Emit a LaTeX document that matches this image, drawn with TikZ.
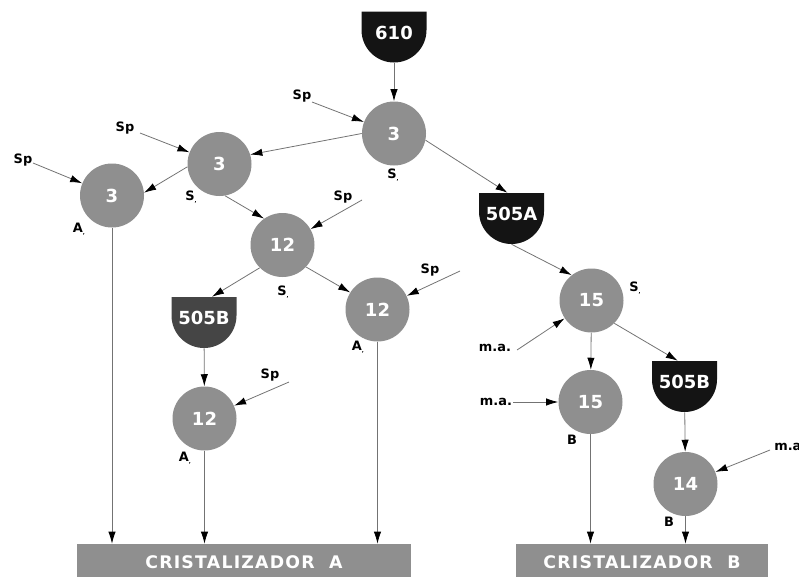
\documentclass[tikz,border=0pt]{standalone}
\usepackage{fontspec}
\setmainfont{DejaVu Sans}
\usetikzlibrary{arrows.meta}
\definecolor{cellgray}{HTML}{8F8F8F}
\definecolor{tankdark}{HTML}{141414}
\definecolor{tankmid}{HTML}{454545}
\newcommand{\subtic}{\raisebox{-2pt}{\fontsize{4}{4}\selectfont ,}}
\begin{document}
\begin{tikzpicture}[x=0.75pt, y=-0.75pt,
    cell/.style={circle, fill=cellgray, minimum size=48pt, inner sep=0pt,
      text=white, font=\fontsize{13.5}{14}\selectfont\bfseries},
    tank/.style={minimum width=48.75pt, minimum height=38.25pt, inner sep=0pt,
      text=white, text height=10pt, text depth=6.3pt,
      font=\fontsize{13.5}{14}\selectfont\bfseries,
      path picture={\fill[#1] (path picture bounding box.north west)
        -- (path picture bounding box.north east) -- ++(0,-13.875pt)
        arc[start angle=0, end angle=-180, radius=24.375pt] -- cycle;}},
    crys/.style={fill=cellgray, minimum width=#1, minimum height=27pt,
      inner sep=0pt, text=white,
      font=\fontsize{13}{14}\selectfont\bfseries\addfontfeature{LetterSpace=7}},
    lbl/.style={inner sep=0pt, font=\fontsize{9.7}{11}\selectfont\bfseries},
    flow/.style={draw=black!55, line width=0.6pt,
      -{Latex[length=9pt, width=5.5pt, color=black]}}]
  \useasboundingbox (0,0) rectangle (799,576);
  \clip (0,0) rectangle (799,576);

  % tanks
  \node[tank=tankdark] (t610) at (394,37) {610};
  \node[tank=tankdark] (t505a) at (511.5,218.5) {505A};
  \node[tank=tankmid] (t505bl) at (204,322.5) {505B};
  \node[tank=tankdark] (t505br) at (684.5,386.5) {505B};

  % cells
  \node[cell] (c3a) at (394,133.5) {3};
  \node[cell] (c3b) at (219.5,164) {3};
  \node[cell] (c3c) at (112,195.5) {3};
  \node[cell] (c12a) at (282.5,245) {12};
  \node[cell] (c12b) at (377.5,309.5) {12};
  \node[cell] (c12c) at (204.5,418.5) {12};
  \node[cell] (c15a) at (591.5,300.5) {15};
  \node[cell] (c15b) at (590.5,402) {15};
  \node[cell] (c14) at (685.5,484) {14};

  % crystallizers
  \node[crys=250.5pt] (crA) at (244,562) {CRISTALIZADOR\ \ A};
  \node[crys=189pt] (crB) at (642,562) {CRISTALIZADOR\ \ B};

  % feed labels
  \node[lbl] (spa) at (302,96) {Sp};
  \node[lbl] (spb) at (125,128) {Sp};
  \node[lbl] (spc) at (23,160) {Sp};
  \node[lbl] (spd) at (343,197) {Sp};
  \node[lbl] (spe) at (430,270) {Sp};
  \node[lbl] (spf) at (270,375) {Sp};
  \node[lbl] (maa) at (495,348) {m.a.};
  \node[lbl] (mab) at (496,402) {m.a.};
  \node[lbl, anchor=west] (mac) at (774,447) {m.a.};
  \coordinate (fa) at (312,102);
  \coordinate (fb) at (140,133);
  \coordinate (fc) at (33,163);
  \coordinate (fd) at (362,200);
  \coordinate (fe) at (460,271);
  \coordinate (ff) at (289,382);
  \coordinate (fg) at (517,350);
  \coordinate (fh) at (513,402);
  \coordinate (fi) at (770,450);

  % outlet labels
  \node[lbl] (oa) at (393,175) {S\subtic};
  \node[lbl] (ob) at (191,197) {S\subtic};
  \node[lbl] (oc) at (79,229) {A\subtic};
  \node[lbl] (od) at (283,292) {S\subtic};
  \node[lbl] (oe) at (358,347) {A\subtic};
  \node[lbl] (of) at (185,458) {A\subtic};
  \node[lbl] (og) at (635,288) {S\subtic};
  \node[lbl] (oh) at (572,440) {B};
  \node[lbl] (oi) at (669,522) {B};

  % feeds
  \draw[flow] (fa) -- (c3a);
  \draw[flow] (fb) -- (c3b);
  \draw[flow] (fc) -- (c3c);
  \draw[flow] (fd) -- (c12a);
  \draw[flow] (fe) -- (c12b);
  \draw[flow] (ff) -- (c12c);
  \draw[flow] (fg) -- (c15a);
  \draw[flow] (fh) -- (c15b);
  \draw[flow] (fi) -- (c14);

  % flows between stages
  \draw[flow] (t610) -- (c3a);
  \draw[flow] (c3a.180) -- (c3b.17);
  \draw[flow] (c3b.185) -- (c3c.5);
  \draw[flow] (c3b.-80) -- (c12a.125);
  \draw[flow] (c3a.-12) -- ([xshift=-3pt]t505a.north);
  \draw[flow] (t505a.south) -- (c15a.128);
  \draw[flow] (c15a) -- (c15b);
  \draw[flow] (c15a.-45) -- ([xshift=-5pt]t505br.north);
  \draw[flow] (t505br) -- (c14);
  \draw[flow] (c12a.225) -- ([xshift=6pt]t505bl.north);
  \draw[flow] (c12a.-43) -- (c12b.148);
  \draw[flow] (t505bl) -- (c12c);

  % to crystallizers
  \draw[flow] (c3c) -- (c3c |- crA.north);
  \draw[flow] (c12c) -- (c12c |- crA.north);
  \draw[flow] (c12b) -- (c12b |- crA.north);
  \draw[flow] (c15b) -- (c15b |- crB.north);
  \draw[flow] (c14) -- (c14 |- crB.north);
\end{tikzpicture}
\end{document}
